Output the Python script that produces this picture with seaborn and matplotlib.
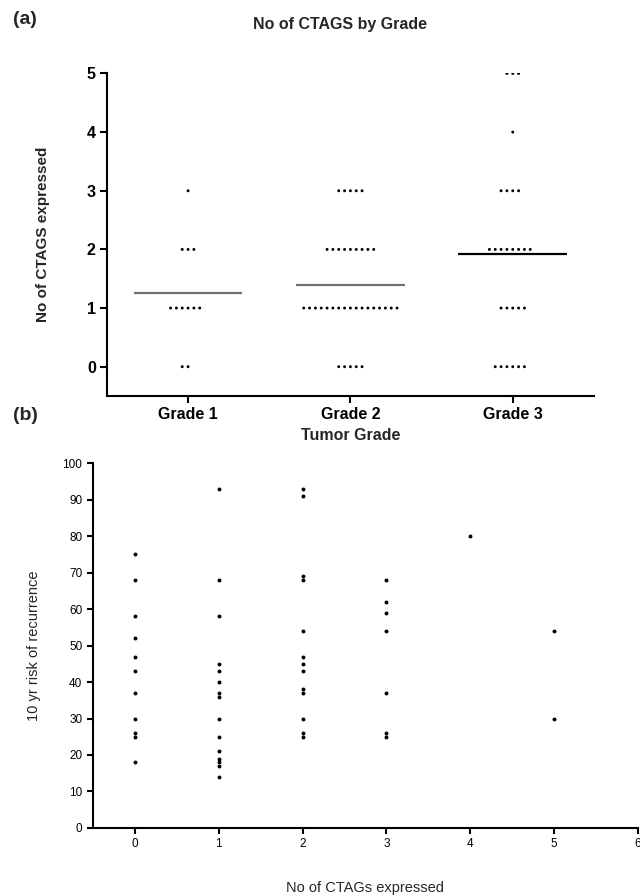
import numpy as np
import pandas as pd
import seaborn as sns
import matplotlib.pyplot as plt

# (a) number of CTAGs expressed, per tumour grade (level -> no. of patients)
grades = ['Grade 1', 'Grade 2', 'Grade 3']
ctag_levels = [0, 1, 2, 3, 4, 5]
grade1_counts = [2, 6, 3, 1, 0, 0]
grade2_counts = [5, 17, 9, 5, 0, 0]
grade3_counts = [6, 5, 8, 4, 1, 3]
mean_colors = ['#707070', '#707070', '#000000']

# (b) 10 yr risk of recurrence vs no. of CTAGs expressed
risk_0 = [75, 68, 58, 52, 47, 43, 37, 30, 26, 25, 18]
risk_1 = [93, 68, 58, 45, 43, 40, 37, 36, 30, 25, 21, 19, 18, 17, 14]
risk_2 = [93, 91, 69, 68, 54, 47, 45, 43, 38, 37, 30, 26, 25]
risk_3 = [68, 62, 59, 54, 37, 26, 25]
risk_4 = [80]
risk_5 = [54, 30]

df_a = pd.concat([
    pd.DataFrame({'grade': g, 'ctags': np.repeat(ctag_levels, c)})
    for g, c in zip(grades, [grade1_counts, grade2_counts, grade3_counts])
], ignore_index=True)

df_b = pd.concat([
    pd.DataFrame({'ctags': n, 'risk': r})
    for n, r in enumerate([risk_0, risk_1, risk_2, risk_3, risk_4, risk_5])
], ignore_index=True)

sns.set_theme(style='ticks')
plt.rcParams['font.family'] = ['Liberation Sans', 'DejaVu Sans']

fig = plt.figure(figsize=(6.4, 8.96), dpi=100)
ax1 = fig.add_axes([0.167, 0.558, 0.761, 0.360])
ax2 = fig.add_axes([0.145, 0.076, 0.852, 0.407])

## (a) scatter dot plot with means
sns.swarmplot(data=df_a, x='grade', y='ctags', order=grades, color='black',
              size=2.1, linewidth=1.9, edgecolor='none', ax=ax1)
means = df_a.groupby('grade')['ctags'].mean().reindex(grades)
for i, (m, c) in enumerate(zip(means, mean_colors)):
    ax1.hlines(m, i - 0.335, i + 0.335, color=c, lw=1.6)

ax1.set(xlim=(-0.5, 2.5), ylim=(-0.5, 5))
ax1.set_yticks(ctag_levels)
ax1.set_xlabel('Tumor Grade', fontsize=11.5, weight='bold')
ax1.set_ylabel('No of CTAGS expressed', fontsize=11, weight='bold')
ax1.xaxis.set_label_coords(0.5, -0.1)
ax1.yaxis.set_label_coords(-0.117, 0.5)
ax1.tick_params(length=5, width=1.5, pad=3, labelsize=11.5, colors='black')
for lab in ax1.get_xticklabels() + ax1.get_yticklabels():
    lab.set_fontweight('bold')
sns.despine(ax=ax1)
for s in ['left', 'bottom']:
    ax1.spines[s].set_linewidth(1.5)
    ax1.spines[s].set_color('black')

## (b) risk scatter
sns.scatterplot(data=df_b, x='ctags', y='risk', color='black', s=8,
                linewidth=0, ax=ax2)
ax2.set(xlim=(-0.5, 6), ylim=(0, 100))
ax2.set_xticks(range(7))
ax2.set_yticks(range(0, 101, 10))
ax2.set_xlabel('No of CTAGs expressed', fontsize=10.5)
ax2.set_ylabel('10 yr risk of recurrence', fontsize=10.5)
ax2.xaxis.set_label_coords(0.5, -0.145)
ax2.yaxis.set_label_coords(-0.095, 0.5)
ax2.tick_params(length=4, width=1.5, labelsize=8.5, colors='black')
sns.despine(ax=ax2)
for s in ['left', 'bottom']:
    ax2.spines[s].set_linewidth(1.5)
    ax2.spines[s].set_color('black')

fig.text(340 / 640, 1 - 25 / 896, 'No of CTAGS by Grade', ha='center',
         va='center', fontsize=11.5, weight='bold')
fig.text(13 / 640, 1 - 20 / 896, '(a)', va='center', fontsize=14, weight='bold')
fig.text(13 / 640, 1 - 415 / 896, '(b)', va='center', fontsize=14, weight='bold')

fig.savefig('out.png', dpi=100)
